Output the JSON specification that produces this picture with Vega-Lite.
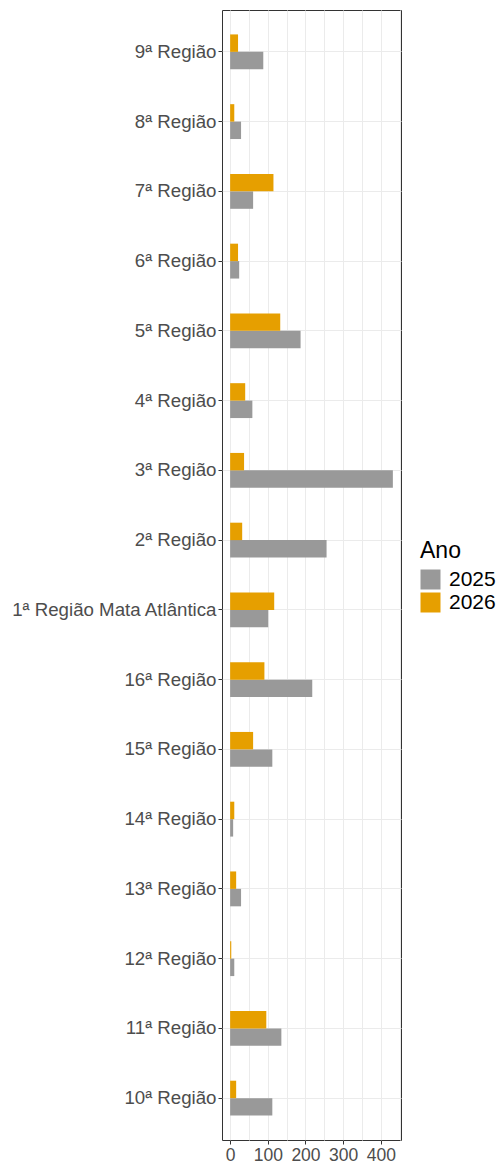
{
  "$schema": "https://vega.github.io/schema/vega-lite/v6.json",
  "width": 179,
  "height": 1130,
  "autosize": "none",
  "padding": {"left": 222, "top": 10, "right": 102, "bottom": 23},
  "background": "white",
  "config": {
    "font": "Liberation Sans",
    "view": {"stroke": "#333333", "strokeWidth": 1}
  },
  "data": {
    "values": [
      {"regiao": "9ª Região", "ano": "2025", "valor": 88},
      {"regiao": "9ª Região", "ano": "2026", "valor": 21},
      {"regiao": "8ª Região", "ano": "2025", "valor": 29},
      {"regiao": "8ª Região", "ano": "2026", "valor": 11},
      {"regiao": "7ª Região", "ano": "2025", "valor": 61},
      {"regiao": "7ª Região", "ano": "2026", "valor": 115},
      {"regiao": "6ª Região", "ano": "2025", "valor": 24},
      {"regiao": "6ª Região", "ano": "2026", "valor": 21},
      {"regiao": "5ª Região", "ano": "2025", "valor": 187},
      {"regiao": "5ª Região", "ano": "2026", "valor": 133},
      {"regiao": "4ª Região", "ano": "2025", "valor": 59},
      {"regiao": "4ª Região", "ano": "2026", "valor": 40},
      {"regiao": "3ª Região", "ano": "2025", "valor": 432},
      {"regiao": "3ª Região", "ano": "2026", "valor": 37},
      {"regiao": "2ª Região", "ano": "2025", "valor": 256},
      {"regiao": "2ª Região", "ano": "2026", "valor": 32},
      {"regiao": "1ª Região Mata Atlântica", "ano": "2025", "valor": 101},
      {"regiao": "1ª Região Mata Atlântica", "ano": "2026", "valor": 117},
      {"regiao": "16ª Região", "ano": "2025", "valor": 218},
      {"regiao": "16ª Região", "ano": "2026", "valor": 91},
      {"regiao": "15ª Região", "ano": "2025", "valor": 112},
      {"regiao": "15ª Região", "ano": "2026", "valor": 61},
      {"regiao": "14ª Região", "ano": "2025", "valor": 8},
      {"regiao": "14ª Região", "ano": "2026", "valor": 11},
      {"regiao": "13ª Região", "ano": "2025", "valor": 29},
      {"regiao": "13ª Região", "ano": "2026", "valor": 16},
      {"regiao": "12ª Região", "ano": "2025", "valor": 11},
      {"regiao": "12ª Região", "ano": "2026", "valor": 3},
      {"regiao": "11ª Região", "ano": "2025", "valor": 136},
      {"regiao": "11ª Região", "ano": "2026", "valor": 96},
      {"regiao": "10ª Região", "ano": "2025", "valor": 112},
      {"regiao": "10ª Região", "ano": "2026", "valor": 16}
    ]
  },
  "mark": {"type": "bar"},
  "encoding": {
    "y": {
      "field": "regiao",
      "type": "nominal",
      "sort": ["9ª Região","8ª Região","7ª Região","6ª Região","5ª Região","4ª Região","3ª Região","2ª Região","1ª Região Mata Atlântica","16ª Região","15ª Região","14ª Região","13ª Região","12ª Região","11ª Região","10ª Região"],
      "scale": {"paddingInner": 0.5, "paddingOuter": 0.35},
      "axis": {
        "title": null,
        "domain": false,
        "grid": true,
        "gridColor": "#EBEBEB",
        "gridWidth": 1,
        "tickBand": "center",
        "ticks": true,
        "tickSize": 4,
        "tickColor": "#333333",
        "labelColor": "#4D4D4D",
        "labelFontSize": 18.7,
        "labelPadding": 2,
        "labelLimit": 400,
        "labelFont": "Liberation Sans"
      }
    },
    "yOffset": {
      "field": "ano",
      "type": "nominal",
      "sort": ["2026", "2025"],
      "scale": {"paddingInner": 0, "paddingOuter": 0}
    },
    "x": {
      "field": "valor",
      "type": "quantitative",
      "scale": {"domain": [-21.6, 453.6], "nice": false, "zero": false},
      "axis": {
        "title": null,
        "domain": false,
        "values": [0, 50, 100, 150, 200, 250, 300, 350, 400, 450],
        "labelExpr": "datum.value % 100 === 0 ? datum.label : ''",
        "grid": true,
        "gridColor": "#EBEBEB",
        "gridWidth": 1,
        "tickSize": 4,
        "tickColor": "#333333",
        "tickOpacity": {"condition": {"test": "datum.value % 100 === 0", "value": 1}, "value": 0},
        "labelColor": "#4D4D4D",
        "labelFontSize": 17.5,
        "labelPadding": 2,
        "labelFlush": false,
        "labelOverlap": false
      }
    },
    "color": {
      "field": "ano",
      "type": "nominal",
      "scale": {"domain": ["2025", "2026"], "range": ["#999999", "#E69F00"]},
      "legend": {
        "title": "Ano",
        "orient": "none",
        "legendX": 198,
        "legendY": 530,
        "titleFontSize": 23,
        "titleFontWeight": "normal",
        "titleColor": "black",
        "titlePadding": 6,
        "labelFontSize": 21,
        "labelColor": "black",
        "symbolType": "square",
        "symbolSize": 400,
        "symbolStrokeWidth": 0,
        "symbolOpacity": 1,
        "rowPadding": 1,
        "labelOffset": 8
      }
    }
  }
}
